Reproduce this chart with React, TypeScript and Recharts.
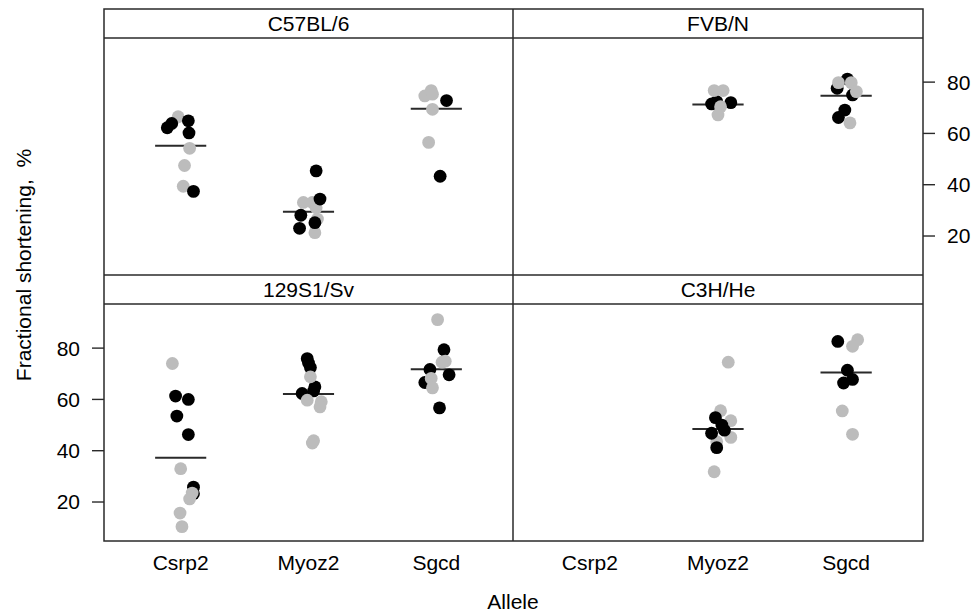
import React from 'react';
import { ScatterChart, Scatter, XAxis, YAxis, ReferenceLine } from 'recharts';

const alleles = ['Csrp2', 'Myoz2', 'Sgcd'];
const strains = ['C57BL/6', 'FVB/N', '129S1/Sv', 'C3H/He'];
const yTicks = [20, 40, 60, 80];

type Pt = [string, number, number]; // allele, horizontal jitter, fractional shortening %

const c57Black: Pt[] = [
  ['Csrp2', -0.105, 62.2], ['Csrp2', -0.07, 63.9], ['Csrp2', 0.06, 64.9], ['Csrp2', 0.065, 60.2], ['Csrp2', 0.1, 37.4],
  ['Myoz2', 0.06, 45.4], ['Myoz2', 0.09, 34.4], ['Myoz2', -0.06, 28.1], ['Myoz2', 0.05, 25.2], ['Myoz2', -0.07, 23.0],
  ['Sgcd', 0.08, 72.8], ['Sgcd', 0.03, 43.3],
];
const c57Gray: Pt[] = [
  ['Csrp2', -0.02, 66.5], ['Csrp2', 0.07, 54.2], ['Csrp2', 0.03, 47.5], ['Csrp2', 0.02, 39.4],
  ['Myoz2', -0.04, 33.1], ['Myoz2', 0.03, 33.1], ['Myoz2', 0.06, 31.0], ['Myoz2', 0.07, 26.6], ['Myoz2', 0.05, 21.3],
  ['Sgcd', -0.04, 76.7], ['Sgcd', -0.09, 74.6], ['Sgcd', -0.03, 75.3], ['Sgcd', -0.03, 69.4], ['Sgcd', -0.06, 56.5],
];
const c57Means = [55.2, 29.5, 69.6];

const fvbBlack: Pt[] = [
  ['Myoz2', -0.01, 72.4], ['Myoz2', 0.1, 72.0], ['Myoz2', -0.05, 71.5],
  ['Sgcd', 0.01, 81.2], ['Sgcd', -0.07, 77.6], ['Sgcd', 0.05, 75.0], ['Sgcd', -0.01, 69.1], ['Sgcd', -0.06, 66.2],
];
const fvbGray: Pt[] = [
  ['Myoz2', -0.03, 76.7], ['Myoz2', 0.04, 76.7], ['Myoz2', 0.02, 70.4], ['Myoz2', 0.0, 67.2],
  ['Sgcd', -0.06, 79.8], ['Sgcd', 0.04, 79.8], ['Sgcd', 0.08, 76.3], ['Sgcd', 0.03, 64.1],
];
const fvbMeans = [null, 71.3, 74.7];

const s129Black: Pt[] = [
  ['Csrp2', -0.04, 61.3], ['Csrp2', 0.06, 60.0], ['Csrp2', -0.03, 53.5], ['Csrp2', 0.06, 46.3], ['Csrp2', 0.1, 25.8], ['Csrp2', 0.1, 23.2],
  ['Myoz2', -0.01, 75.9], ['Myoz2', 0.0, 74.2], ['Myoz2', 0.015, 72.4], ['Myoz2', 0.05, 64.9], ['Myoz2', 0.04, 63.3], ['Myoz2', -0.05, 62.3],
  ['Sgcd', 0.06, 79.4], ['Sgcd', -0.05, 71.7], ['Sgcd', 0.1, 69.6], ['Sgcd', -0.09, 66.6], ['Sgcd', 0.025, 56.7],
];
const s129Gray: Pt[] = [
  ['Csrp2', -0.065, 74.0], ['Csrp2', 0.0, 33.0], ['Csrp2', 0.09, 23.5], ['Csrp2', 0.07, 21.2], ['Csrp2', -0.005, 15.7], ['Csrp2', 0.01, 10.4],
  ['Myoz2', 0.015, 68.8], ['Myoz2', -0.01, 59.7], ['Myoz2', 0.1, 59.1], ['Myoz2', 0.09, 57.1], ['Myoz2', 0.04, 43.9], ['Myoz2', 0.03, 43.0],
  ['Sgcd', 0.01, 91.1], ['Sgcd', 0.07, 74.9], ['Sgcd', 0.045, 74.5], ['Sgcd', -0.04, 68.2], ['Sgcd', -0.03, 64.5],
];
const s129Means = [37.3, 62.1, 71.8];

const c3hBlack: Pt[] = [
  ['Myoz2', -0.02, 52.9], ['Myoz2', 0.03, 50.0], ['Myoz2', 0.05, 48.0], ['Myoz2', -0.05, 46.8], ['Myoz2', -0.01, 41.2],
  ['Sgcd', -0.065, 82.6], ['Sgcd', 0.01, 71.4], ['Sgcd', 0.05, 67.8], ['Sgcd', -0.02, 66.4],
];
const c3hGray: Pt[] = [
  ['Myoz2', 0.08, 74.5], ['Myoz2', 0.02, 55.6], ['Myoz2', 0.1, 51.7], ['Myoz2', 0.1, 45.2], ['Myoz2', -0.01, 43.5], ['Myoz2', -0.03, 31.8],
  ['Sgcd', 0.09, 83.3], ['Sgcd', 0.05, 80.7], ['Sgcd', -0.03, 55.5], ['Sgcd', 0.05, 46.4],
];
const c3hMeans = [null, 48.5, 70.5];

const W = 974;
const H = 612;
const AW = 40;
const XH = 30;
const FONT = '"Liberation Sans", Arial, Helvetica, sans-serif';
const LINE = '#2a2a2a';

const toPts = (arr: Pt[], g: string) =>
  arr.map(([a, j, v]) => ({ x: alleles.indexOf(a) + 1 + j, y: v, g }));

const Dot = (p: any) => (
  <circle cx={p.cx} cy={p.cy} r={6.4} fill={p.payload.g === 'b' ? '#000000' : '#bcbcbc'} />
);

function Panel(props: {
  black: Pt[]; gray: Pt[]; means: (number | null)[]; grayOnTop: boolean;
  L: number; R: number; T: number; B: number;
  yRight: boolean; yLabels: boolean; showX: boolean;
}) {
  const { black, gray, means, grayOnTop, L, R, T, B, yRight, yLabels, showX } = props;
  const first = grayOnTop ? toPts(black, 'b') : toPts(gray, 'g');
  const second = grayOnTop ? toPts(gray, 'g') : toPts(black, 'b');
  const margin = {
    top: T,
    bottom: showX ? H - B - XH : H - B,
    left: yRight ? L : L - AW,
    right: yRight ? W - R - AW : W - R,
  };
  return (
    <div style={{ position: 'absolute', left: 0, top: 0 }}>
      <ScatterChart width={W} height={H} margin={margin}>
        <XAxis
          type="number" dataKey="x" domain={[0.4, 3.6]} ticks={[1, 2, 3]}
          tickFormatter={(v: number) => alleles[v - 1]}
          hide={!showX} height={XH} axisLine={false} tickLine={false}
          tickSize={8} tickMargin={6} interval={0}
          tick={{ fill: '#000', fontSize: 21, fontFamily: FONT }}
          allowDataOverflow
        />
        <YAxis
          type="number" dataKey="y" domain={[4.8, 97.2]} ticks={yTicks}
          orientation={yRight ? 'right' : 'left'} width={AW} axisLine={false}
          tickLine={{ stroke: LINE, strokeWidth: 1.4 }} tickSize={12} tickMargin={12}
          tick={yLabels ? { fill: '#000', fontSize: 21, fontFamily: FONT } : false}
          interval={0} allowDataOverflow
        />
        {means.map((m, i) =>
          m === null ? null : (
            <ReferenceLine
              key={i}
              segment={[{ x: i + 1 - 0.2, y: m }, { x: i + 1 + 0.2, y: m }]}
              stroke={LINE} strokeWidth={2}
            />
          )
        )}
        <Scatter data={first} shape={Dot} isAnimationActive={false} />
        <Scatter data={second} shape={Dot} isAnimationActive={false} />
      </ScatterChart>
    </div>
  );
}

export default function App() {
  const xL = 104, xM = 513, xR = 923;
  const y0 = 9, y1 = 38, y2 = 275, y3 = 304, y4 = 541;
  return (
    <div style={{ position: 'absolute', left: 0, top: 0, width: W, height: H, background: '#fff', fontFamily: FONT }}>
      <Panel black={c57Black} gray={c57Gray} means={c57Means} grayOnTop={false}
        L={xL} R={xM} T={y1} B={y2} yRight={false} yLabels={false} showX={false} />
      <Panel black={fvbBlack} gray={fvbGray} means={fvbMeans} grayOnTop={true}
        L={xM} R={xR} T={y1} B={y2} yRight={true} yLabels={true} showX={false} />
      <Panel black={s129Black} gray={s129Gray} means={s129Means} grayOnTop={true}
        L={xL} R={xM} T={y3} B={y4} yRight={false} yLabels={true} showX={true} />
      <Panel black={c3hBlack} gray={c3hGray} means={c3hMeans} grayOnTop={false}
        L={xM} R={xR} T={y3} B={y4} yRight={true} yLabels={false} showX={true} />
      <svg width={W} height={H} style={{ position: 'absolute', left: 0, top: 0, pointerEvents: 'none' }}>
        <g stroke={LINE} strokeWidth={1.5} fill="none">
          <rect x={xL} y={y0} width={xR - xL} height={y4 - y0} />
          <line x1={xM} y1={y0} x2={xM} y2={y4} />
          <line x1={xL} y1={y1} x2={xR} y2={y1} />
          <line x1={xL} y1={y2} x2={xR} y2={y2} />
          <line x1={xL} y1={y3} x2={xR} y2={y3} />
        </g>
        <g fontSize={21} fill="#000" textAnchor="middle" fontFamily={FONT}>
          <text x={(xL + xM) / 2} y={(y0 + y1) / 2} dy="0.36em">{strains[0]}</text>
          <text x={(xM + xR) / 2} y={(y0 + y1) / 2} dy="0.36em">{strains[1]}</text>
          <text x={(xL + xM) / 2} y={(y2 + y3) / 2} dy="0.36em">{strains[2]}</text>
          <text x={(xM + xR) / 2} y={(y2 + y3) / 2} dy="0.36em">{strains[3]}</text>
          <text x={xM} y={601} dy="0.36em">Allele</text>
          <text transform="translate(23, 265) rotate(-90)" dy="0.36em">{'Fractional shortening,\u00a0\u00a0%'}</text>
        </g>
      </svg>
    </div>
  );
}
